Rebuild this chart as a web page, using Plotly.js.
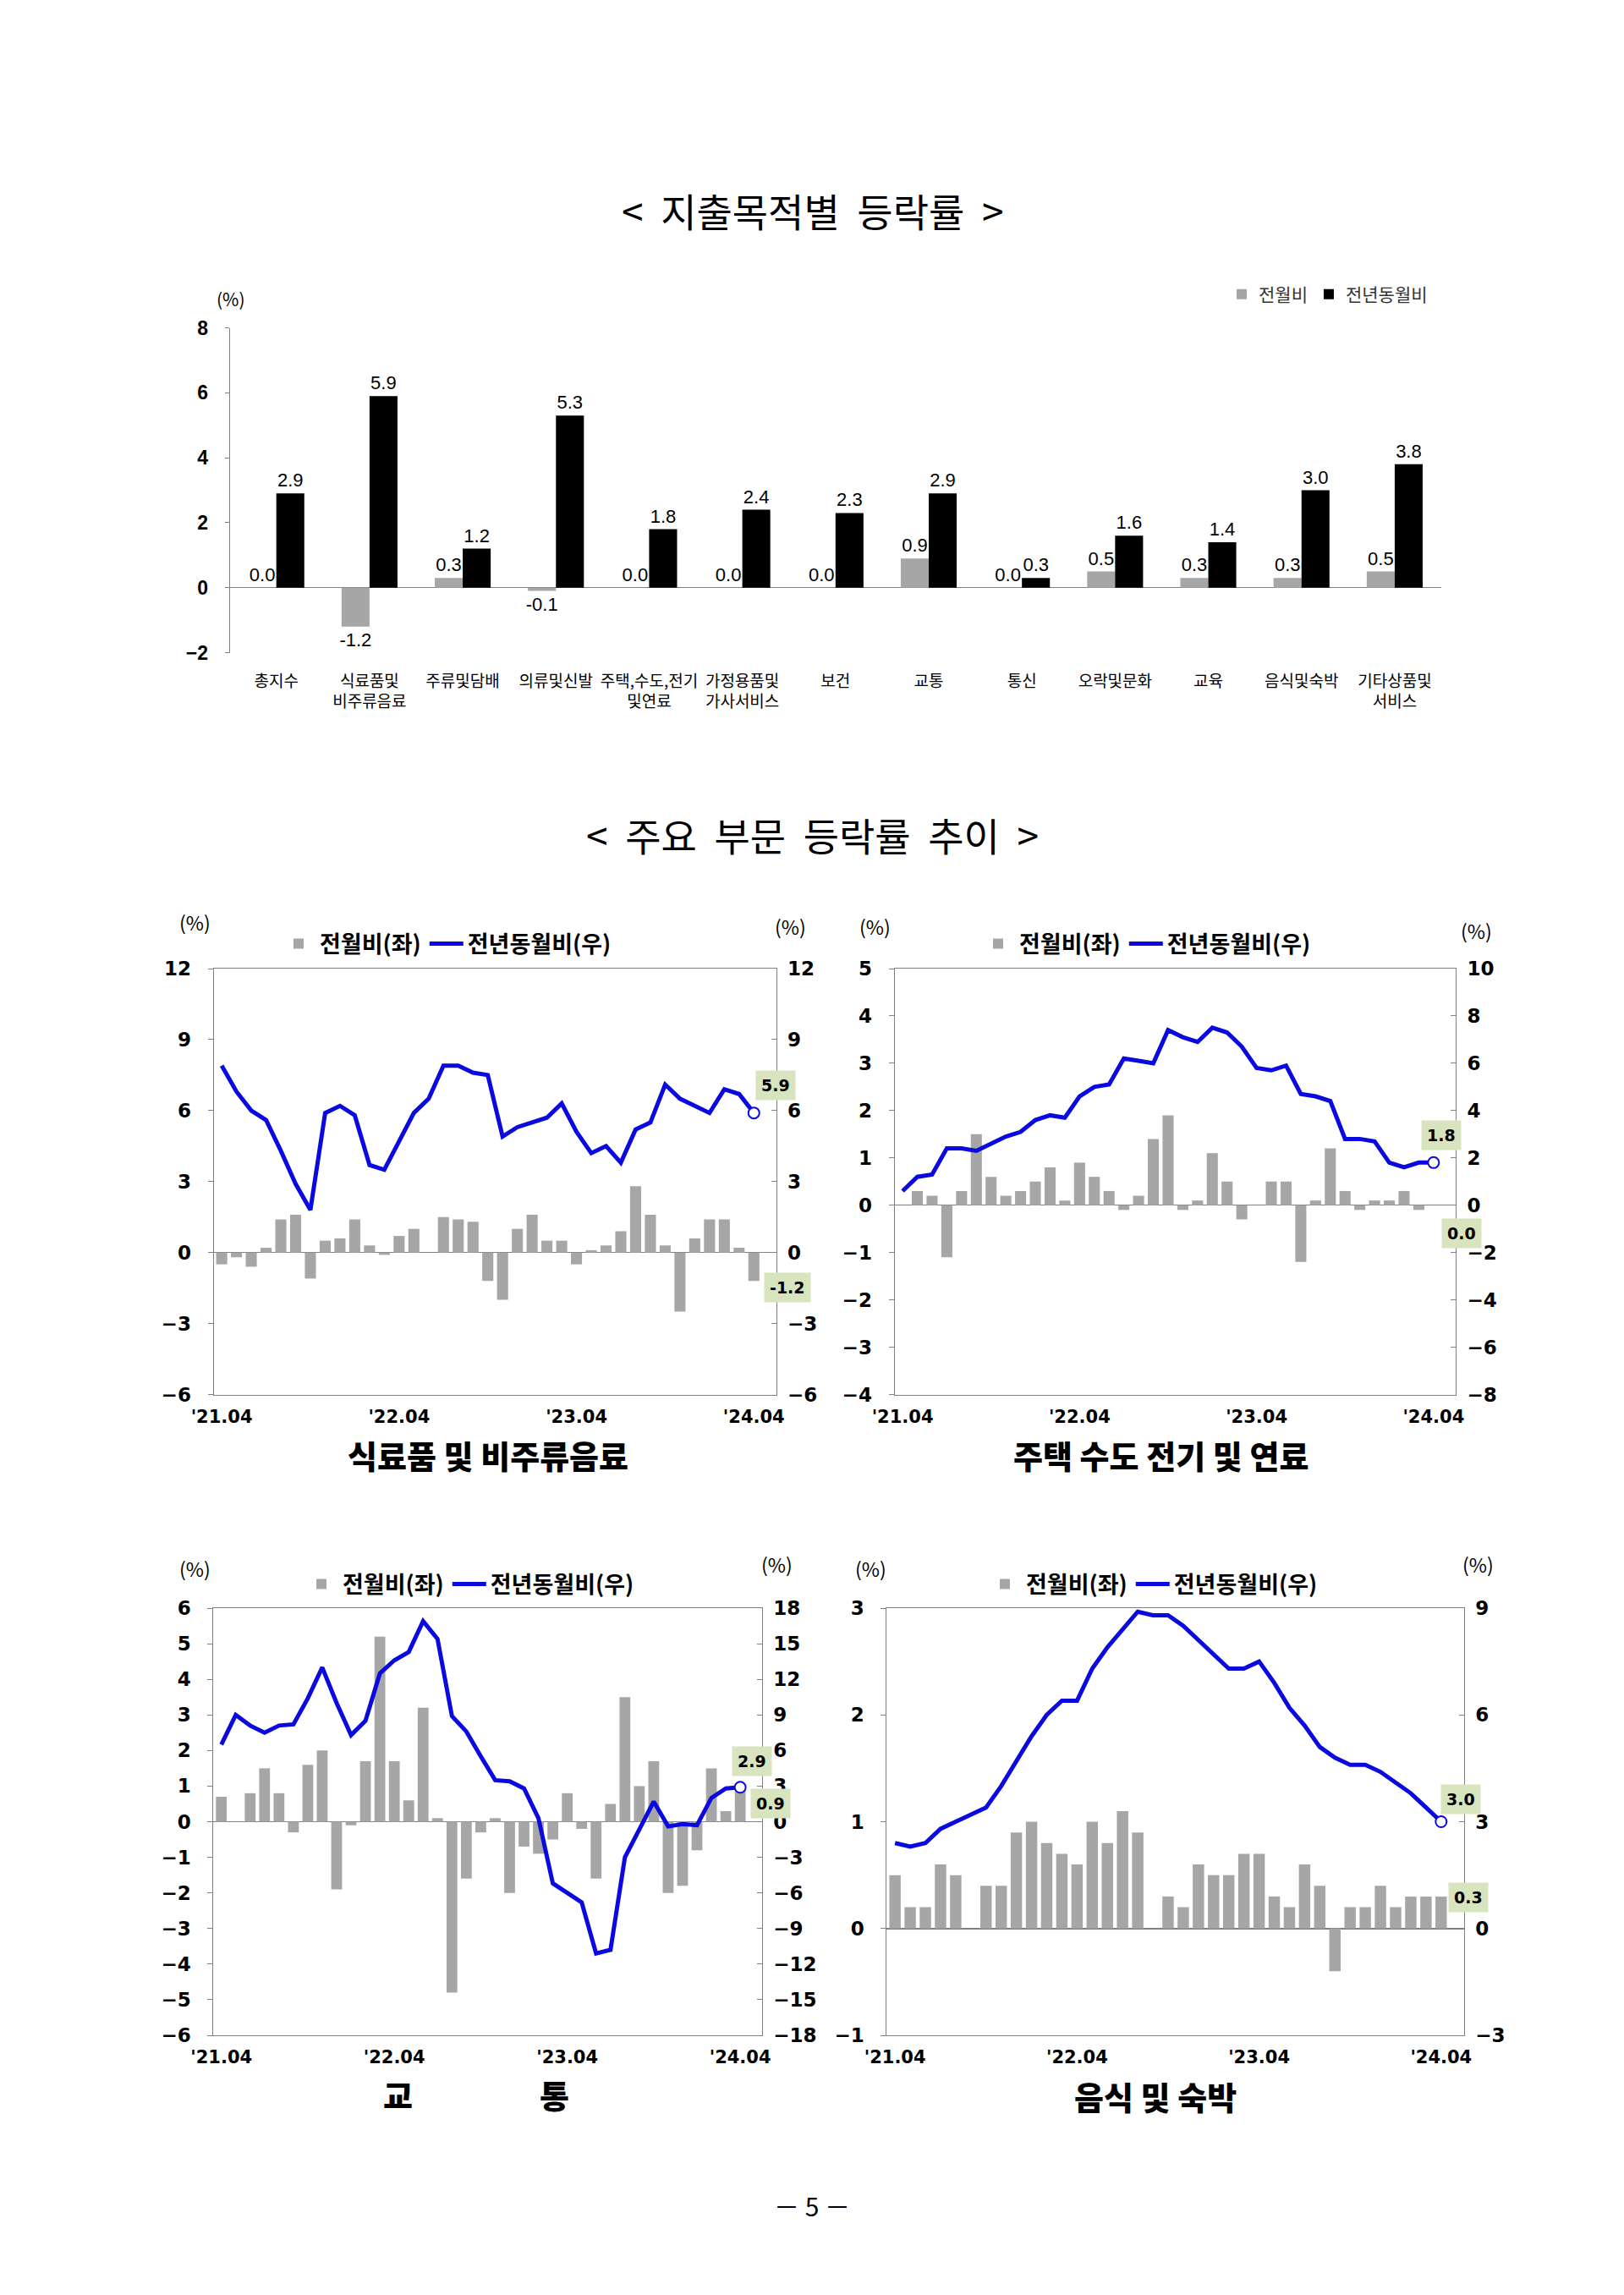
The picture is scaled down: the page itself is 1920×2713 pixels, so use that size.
<!DOCTYPE html>
<html><head><meta charset="utf-8">
<script src="https://cdn.plot.ly/plotly-3.0.1.min.js"></script>
<style>html,body{margin:0;padding:0;background:#fff;} #chart{width:1920px;height:2713px;}</style>
</head><body><div id="chart"></div>
<script>
// ---------- top chart: 지출목적별 등락률 ----------
const categories = ['총지수','식료품및<br>비주류음료','주류및담배','의류및신발','주택,수도,전기<br>및연료','가정용품및<br>가사서비스','보건','교통','통신','오락및문화','교육','음식및숙박','기타상품및<br>서비스'];
const momAll = [0.0,-1.2,0.3,-0.1,0.0,0.0,0.0,0.9,0.0,0.5,0.3,0.3,0.5];
const yoyAll = [2.9,5.9,1.2,5.3,1.8,2.4,2.3,2.9,0.3,1.6,1.4,3.0,3.8];

// ---------- panels: 주요 부문 등락률 추이 ----------
const months = ["'21.04","'21.05","'21.06","'21.07","'21.08","'21.09","'21.10","'21.11","'21.12","'22.01","'22.02","'22.03",
"'22.04","'22.05","'22.06","'22.07","'22.08","'22.09","'22.10","'22.11","'22.12","'23.01","'23.02","'23.03",
"'23.04","'23.05","'23.06","'23.07","'23.08","'23.09","'23.10","'23.11","'23.12","'24.01","'24.02","'24.03","'24.04"];
const tickLabels = ["'21.04","'22.04","'23.04","'24.04"];

const foodMom = [-0.5,-0.2,-0.6,0.2,1.4,1.6,-1.1,0.5,0.6,1.4,0.3,-0.1,0.7,1.0,0.0,1.5,1.4,1.3,-1.2,-2.0,1.0,1.6,0.5,0.5,-0.5,0.1,0.3,0.9,2.8,1.6,0.3,-2.5,0.6,1.4,1.4,0.2,-1.2];
const foodYoy = [7.9,6.8,6.0,5.6,4.3,2.9,1.8,5.9,6.2,5.8,3.7,3.5,4.7,5.9,6.5,7.9,7.9,7.6,7.5,4.9,5.3,5.5,5.7,6.3,5.1,4.2,4.5,3.8,5.2,5.5,7.1,6.5,6.2,5.9,6.9,6.7,5.9];

const housingMom = [0.0,0.3,0.2,-1.1,0.3,1.5,0.6,0.2,0.3,0.5,0.8,0.1,0.9,0.6,0.3,-0.1,0.2,1.4,1.9,-0.1,0.1,1.1,0.5,-0.3,0.0,0.5,0.5,-1.2,0.1,1.2,0.3,-0.1,0.1,0.1,0.3,-0.1,0.0];
const housingYoy = [0.6,1.2,1.3,2.4,2.4,2.3,2.6,2.9,3.1,3.6,3.8,3.7,4.6,5.0,5.1,6.2,6.1,6.0,7.4,7.1,6.9,7.5,7.3,6.7,5.8,5.7,5.9,4.7,4.6,4.4,2.8,2.8,2.7,1.8,1.6,1.8,1.8];

const transportMom = [0.7,0.0,0.8,1.5,0.8,-0.3,1.6,2.0,-1.9,-0.1,1.7,5.2,1.7,0.6,3.2,0.1,-4.8,-1.6,-0.3,0.1,-2.0,-0.7,-0.9,-0.5,0.8,-0.2,-1.6,0.5,3.5,1.0,1.7,-2.0,-1.8,-0.8,1.5,0.3,0.9];
const transportYoy = [6.5,9.0,8.1,7.5,8.1,8.2,10.4,13.0,10.0,7.3,8.5,12.5,13.6,14.3,16.9,15.4,8.9,7.6,5.5,3.5,3.4,2.8,0.3,-5.2,-6.0,-6.8,-11.1,-10.8,-3.0,-0.6,1.7,-0.4,-0.2,-0.3,2.0,2.8,2.9];

const restaurantMom = [0.5,0.2,0.2,0.6,0.5,0.0,0.4,0.4,0.9,1.0,0.8,0.7,0.6,1.0,0.8,1.1,0.9,0.0,0.3,0.2,0.6,0.5,0.5,0.7,0.7,0.3,0.2,0.6,0.4,-0.4,0.2,0.2,0.4,0.2,0.3,0.3,0.3];
const restaurantYoy = [2.4,2.3,2.4,2.8,3.0,3.2,3.4,4.0,4.7,5.4,6.0,6.4,6.4,7.3,7.9,8.4,8.9,8.8,8.8,8.5,8.1,7.7,7.3,7.3,7.5,6.9,6.2,5.7,5.1,4.8,4.6,4.6,4.4,4.1,3.8,3.4,3.0];

const seriesNames = ['전월비','전년동월비'];
const panelSeriesNames = ['전월비(좌)','전년동월비(우)'];

// ---------- styles ----------
const GRAY = '#A6A6A6';
const BLUE = '#0A0AE0';
const AXC = '#808080';
const KR = 'Noto Sans CJK KR';
const NUM = 'DejaVu Sans';

const traces = [];
traces.push({type:'bar', name:seriesNames[0], x:categories, y:momAll, xaxis:'x', yaxis:'y',
  marker:{color:GRAY}, text:momAll.map(v=>v.toFixed(1)), textposition:'outside', cliponaxis:false,
  constraintext:'none', textangle:0, textfont:{family:'Liberation Sans Narrow, Liberation Sans', size:22, color:'#000'}, legend:'legend'});
traces.push({type:'bar', name:seriesNames[1], x:categories, y:yoyAll, xaxis:'x', yaxis:'y',
  marker:{color:'#000000'}, text:yoyAll.map(v=>v.toFixed(1)), textposition:'outside', cliponaxis:false,
  constraintext:'none', textangle:0, textfont:{family:'Liberation Sans Narrow, Liberation Sans', size:22, color:'#000'}, legend:'legend'});

const panels = [
  {mom:foodMom, yoy:foodYoy, xa:'x3', yl:'y3', yr:'y4', lg:'legend2'},
  {mom:housingMom, yoy:housingYoy, xa:'x4', yl:'y5', yr:'y6', lg:'legend3'},
  {mom:transportMom, yoy:transportYoy, xa:'x5', yl:'y7', yr:'y8', lg:'legend4'},
  {mom:restaurantMom, yoy:restaurantYoy, xa:'x6', yl:'y9', yr:'y10', lg:'legend5'}
];
const last = months.length - 1;
panels.forEach(p=>{
  traces.push({type:'bar', name:panelSeriesNames[0], x:months, y:p.mom, xaxis:p.xa, yaxis:p.yl,
    marker:{color:GRAY}, width:0.75, legend:p.lg});
  traces.push({type:'scatter', mode:'lines', name:panelSeriesNames[1], x:months, y:p.yoy, xaxis:p.xa, yaxis:p.yr,
    line:{color:BLUE, width:5}, legend:p.lg});
  traces.push({type:'scatter', mode:'markers', showlegend:false, x:[months[last]], y:[p.yoy[last]], xaxis:p.xa, yaxis:p.yr,
    marker:{symbol:'circle', size:13, color:'#ffffff', line:{color:BLUE, width:2}}, cliponaxis:false});
});

// ---------- layout ----------
function px(x){return x/1920;}
function py(y){return 1 - y/2713;}

const topDom = [py(771.5), py(387.5)];
const boundaries = categories.map((c,i)=>i+0.5);

function xPanel(dom, anchor){
  return {domain:dom, anchor:anchor, type:'category', range:[-0.55,37.5], tickmode:'array', tickvals:tickLabels, ticktext:tickLabels,
    ticks:'', showline:true, mirror:true, linecolor:AXC, linewidth:1, showgrid:false, zeroline:false,
    tickfont:{family:NUM, size:21, weight:'bold', color:'#000'}, ticklabelstandoff:7};
}
function yLeft(dom, anchor, range, dtick){
  return {domain:dom, anchor:anchor, range:range, dtick:dtick, tick0:0, showline:true, linecolor:AXC, linewidth:1,
    ticks:'outside', ticklen:6, tickcolor:AXC, showgrid:false, zeroline:true, zerolinecolor:AXC, zerolinewidth:1.5,
    tickfont:{family:NUM, size:23, weight:'bold', color:'#000'}, ticklabelstandoff:15};
}
function yRight(over, anchor, range, dtick){
  return {overlaying:over, side:'right', anchor:anchor, range:range, dtick:dtick, tick0:0, showline:true, linecolor:AXC, linewidth:1,
    ticks:'inside', ticklen:6, tickcolor:AXC, showgrid:false, zeroline:false,
    tickfont:{family:NUM, size:23, weight:'bold', color:'#000'}, ticklabelstandoff:8};
}

const dTop = [py(1648.5), py(1145)];
const dBot = [py(2406), py(1901)];

const panelLegend = (x, y)=>({x:px(x), y:py(y), xanchor:'left', yanchor:'middle', orientation:'h', bgcolor:'rgba(0,0,0,0)',
    font:{family:KR, size:27, weight:'bold', color:'#000'}, traceorder:'normal', itemwidth:40});

const layout = {
  width:1920, height:2713, margin:{l:0,r:0,t:0,b:0},
  paper_bgcolor:'#ffffff', plot_bgcolor:'rgba(0,0,0,0)',
  barmode:'group', bargap:0.4, bargroupgap:0,
  font:{family:KR, color:'#000'},
  xaxis:{domain:[px(271.6), px(1704)], anchor:'y', type:'category', showline:false, ticks:'', showgrid:false, zeroline:false,
    tickfont:{family:KR, size:19, color:'#000'}, ticklabelstandoff:20},
  yaxis:{domain:topDom, anchor:'x', range:[-2,8], dtick:2, tick0:0, showline:true, linecolor:AXC, linewidth:1,
    ticks:'outside', ticklen:5, tickcolor:AXC, showgrid:false, zeroline:true, zerolinecolor:AXC, zerolinewidth:1,
    tickfont:{family:'Liberation Sans', size:23, weight:'bold', color:'#000'}, ticklabelstandoff:15},
  xaxis2:{overlaying:'x', anchor:'free', position: topDom[0] + 0.2*(topDom[1]-topDom[0]), range:[-0.5, categories.length-0.5],
    tickmode:'array', tickvals:boundaries, ticks:'outside', ticklen:7, tickcolor:AXC, showticklabels:false,
    showline:false, showgrid:false, zeroline:false},

  xaxis3: xPanel([px(252.5), px(917.5)], 'y3'),
  yaxis3: yLeft(dTop, 'x3', [-6,12], 3),
  yaxis4: yRight('y3', 'x3', [-6,12], 3),

  xaxis4: xPanel([px(1057.5), px(1721)], 'y5'),
  yaxis5: yLeft(dTop, 'x4', [-4,5], 1),
  yaxis6: yRight('y5', 'x4', [-8,10], 2),

  xaxis5: xPanel([px(252.3), px(900.7)], 'y7'),
  yaxis7: yLeft(dBot, 'x5', [-6,6], 1),
  yaxis8: yRight('y7', 'x5', [-18,18], 3),

  xaxis6: xPanel([px(1048.3), px(1730.7)], 'y9'),
  yaxis9: yLeft(dBot, 'x6', [-1,3], 1),
  yaxis10: yRight('y9', 'x6', [-3,9], 3),

  legend:{x:px(1448), y:py(348), xanchor:'left', yanchor:'middle', orientation:'h', bgcolor:'rgba(0,0,0,0)',
    font:{family:KR, size:21, color:'#333'}, itemwidth:30, traceorder:'normal'},
  legend2: panelLegend(328, 1116),
  legend3: panelLegend(1155, 1116),
  legend4: panelLegend(355, 1873),
  legend5: panelLegend(1163, 1873),
  annotations:[]
};

const ann = layout.annotations;
function paperText(text, x, y, size, opts){
  ann.push(Object.assign({text:text, x:px(x), y:py(y), xref:'paper', yref:'paper', showarrow:false,
    xanchor:'center', yanchor:'middle', font:{family:KR, size:size, color:'#000'}}, opts||{}));
}
const bigBold = {family:KR, size:38, weight:900, color:'#000'};
paperText('&lt;  지출목적별  등락률  &gt;', 960, 248, 46);
paperText('&lt;  주요  부문  등락률  추이  &gt;', 960, 986, 46);
paperText('(%)', 273, 353, 21);
paperText('식료품 및 비주류음료', 577, 1719, 38, {font:bigBold});
paperText('주택 수도 전기 및 연료', 1372, 1719, 38, {font:bigBold});
paperText('교', 470, 2475, 38, {font:bigBold});
paperText('통', 655, 2475, 38, {font:bigBold});
paperText('음식 및 숙박', 1366, 2477, 38, {font:bigBold});
paperText('－ 5 －', 960, 2607, 30);
[[230,1090],[934,1095],[1034,1095],[1745,1100],[230,1854],[918,1849],[1029,1854],[1747,1849]].forEach(p=>paperText('(%)', p[0], p[1], 23));

// value boxes at last observation
const boxStyle = {showarrow:false, bgcolor:'#D7E4BD', borderpad:6, font:{family:NUM, size:19, weight:'bold', color:'#000'}, xanchor:'center', yanchor:'middle'};
const boxShifts = [
  {yoy:[26,33], mom:[40,-8]},
  {yoy:[9,32], mom:[33,-33]},
  {yoy:[14,31], mom:[36,-16]},
  {yoy:[23,27], mom:[32,-1]}
];
panels.forEach((p,i)=>{
  ann.push(Object.assign({}, boxStyle, {text:p.yoy[last].toFixed(1), x:months[last], y:p.yoy[last], xref:p.xa, yref:p.yr,
    xshift:boxShifts[i].yoy[0], yshift:boxShifts[i].yoy[1]}));
  ann.push(Object.assign({}, boxStyle, {text:p.mom[last].toFixed(1), x:months[last], y:p.mom[last], xref:p.xa, yref:p.yl,
    xshift:boxShifts[i].mom[0], yshift:boxShifts[i].mom[1]}));
});

Plotly.newPlot('chart', traces, layout, {staticPlot:true, displayModeBar:false});
</script>
</body></html>
